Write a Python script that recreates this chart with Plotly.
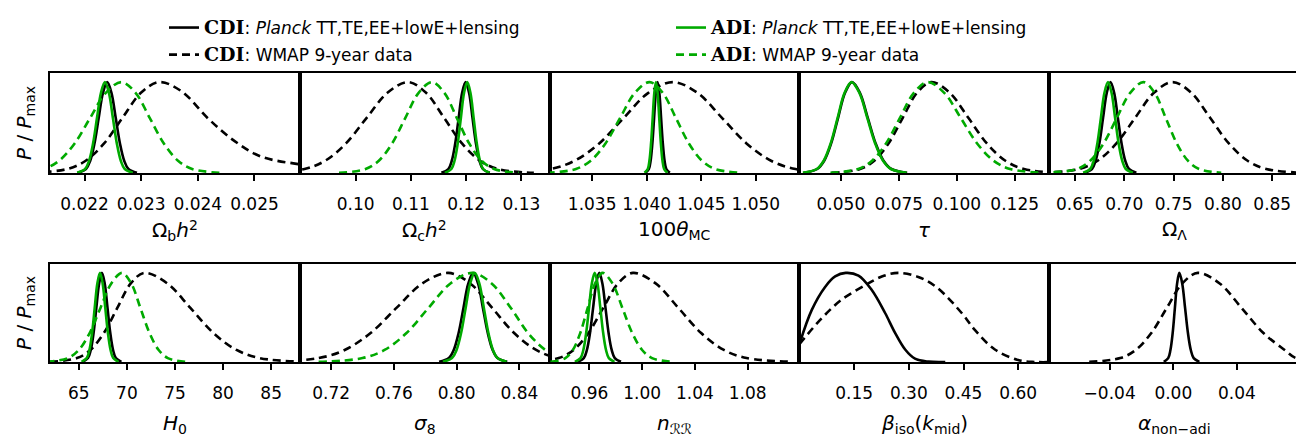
import plotly.graph_objects as go

GREEN = "#00AA00"
BLACK = "#000000"
FONT = "DejaVu Sans"

# shared normalised heights (P/Pmax) at which the x positions below were read
LEVELS = [0.002, 0.044, 0.135, 0.325, 0.607, 0.882, 1.0, 0.882, 0.607, 0.325, 0.135, 0.044, 0.002]

# ---- Omega_b h^2
omb_range = [0.02139, 0.0258]
omb_ticks = [0.022, 0.023, 0.024, 0.025]
omb_ticktext = ["0.022", "0.023", "0.024", "0.025"]
omb_cdi_planck_x = [0.021875, 0.022025, 0.0221, 0.022175, 0.02225, 0.022325, 0.0224, 0.022475, 0.02255, 0.022625, 0.0227, 0.022775, 0.022925]
omb_adi_planck_x = [0.02187, 0.02201, 0.02208, 0.02215, 0.02222, 0.02229, 0.02236, 0.02243, 0.0225, 0.02257, 0.02264, 0.02271, 0.02285]
omb_cdi_wmap_x = [0.021045, 0.021695, 0.02202, 0.022345, 0.02267, 0.022995, 0.02332, 0.02371, 0.02418, 0.02465, 0.02512, 0.0258, 0.0265, 0.0275]
omb_cdi_wmap_y = [0.002, 0.044, 0.135, 0.325, 0.607, 0.882, 1.0, 0.90, 0.60, 0.35, 0.18, 0.095, 0.035, 0.005]
omb_adi_wmap_x = [0.020725, 0.021275, 0.02155, 0.021825, 0.0221, 0.022375, 0.02265, 0.0229, 0.02315, 0.0234, 0.02365, 0.0239, 0.0244]

# ---- Omega_c h^2
omc_range = [0.0899, 0.1351]
omc_ticks = [0.10, 0.11, 0.12, 0.13]
omc_ticktext = ["0.10", "0.11", "0.12", "0.13"]
omc_cdi_planck_x = [0.115525, 0.116775, 0.1174, 0.118025, 0.11865, 0.119275, 0.1199, 0.120525, 0.12115, 0.121775, 0.1224, 0.123025, 0.124275]
omc_adi_planck_x = [0.116175, 0.117325, 0.1179, 0.118475, 0.11905, 0.119625, 0.1202, 0.120775, 0.12135, 0.121925, 0.1225, 0.123075, 0.124225]
omc_cdi_wmap_x = [0.08325, 0.09075, 0.0945, 0.09825, 0.102, 0.10575, 0.1095, 0.11275, 0.116, 0.11925, 0.1225, 0.12575, 0.13225]
omc_adi_wmap_x = [0.097, 0.1018, 0.1042, 0.1066, 0.109, 0.1114, 0.1138, 0.11605, 0.1183, 0.12055, 0.1228, 0.12505, 0.12955]

# ---- 100 theta_MC
th_range = [1.0311, 1.0540]
th_ticks = [1.035, 1.040, 1.045, 1.050]
th_ticktext = ["1.035", "1.040", "1.045", "1.050"]
th_cdi_planck_x = [1.03988, 1.0402, 1.04036, 1.04052, 1.04068, 1.04084, 1.041, 1.04116, 1.04132, 1.04148, 1.04164, 1.0418, 1.04212]
th_adi_planck_x = [1.0398, 1.0401, 1.04025, 1.0404, 1.04055, 1.0407, 1.04085, 1.041, 1.04115, 1.0413, 1.04145, 1.0416, 1.0419]
th_cdi_wmap_x = [1.02665, 1.03115, 1.0334, 1.03565, 1.0379, 1.04015, 1.0424, 1.04465, 1.0469, 1.04915, 1.0514, 1.05365, 1.05815]
th_adi_wmap_x = [1.03082, 1.03352, 1.03487, 1.03622, 1.03757, 1.03892, 1.04027, 1.04147, 1.04267, 1.04387, 1.04507, 1.04627, 1.04867]

# ---- tau
tau_range = [0.0321, 0.1399]
tau_ticks = [0.050, 0.075, 0.100, 0.125]
tau_ticktext = ["0.050", "0.075", "0.100", "0.125"]
tau_cdi_planck_x = [0.0338, 0.0398, 0.0428, 0.0458, 0.0488, 0.0518, 0.0548, 0.0582, 0.0616, 0.065, 0.0684, 0.0718, 0.0786]
tau_adi_planck_x = [0.0336, 0.0396, 0.0426, 0.0456, 0.0486, 0.0516, 0.0546, 0.058, 0.0614, 0.0648, 0.0682, 0.0716, 0.0784]
tau_cdi_wmap_x = [0.04595, 0.05825, 0.0644, 0.07055, 0.0767, 0.08285, 0.089, 0.097, 0.105, 0.113, 0.121, 0.129, 0.145]
tau_adi_wmap_x = [0.0455, 0.0575, 0.0635, 0.0695, 0.0755, 0.0815, 0.0875, 0.0946, 0.1017, 0.1088, 0.1159, 0.123, 0.1372]

# ---- Omega_Lambda
ol_range = [0.6239, 0.8771]
ol_ticks = [0.65, 0.70, 0.75, 0.80, 0.85]
ol_ticktext = ["0.65", "0.70", "0.75", "0.80", "0.85"]
ol_cdi_planck_x = [0.65975, 0.66725, 0.671, 0.67475, 0.6785, 0.68225, 0.686, 0.68975, 0.6935, 0.69725, 0.701, 0.70475, 0.71225]
ol_adi_planck_x = [0.6583, 0.6655, 0.6691, 0.6727, 0.6763, 0.6799, 0.6835, 0.6871, 0.6907, 0.6943, 0.6979, 0.7015, 0.7087]
ol_cdi_wmap_x = [0.616, 0.654, 0.673, 0.692, 0.711, 0.73, 0.749, 0.768, 0.787, 0.806, 0.825, 0.844, 0.882]
ol_adi_wmap_x = [0.615, 0.652, 0.6655, 0.679, 0.6925, 0.706, 0.7195, 0.73075, 0.742, 0.75325, 0.7645, 0.77575, 0.79825]

# ---- H0
h0_range = [62.0, 87.98]
h0_ticks = [65, 70, 75, 80, 85]
h0_ticktext = ["65", "70", "75", "80", "85"]
h0_cdi_planck_x = [65.37, 65.95, 66.24, 66.53, 66.82, 67.11, 67.4, 67.69, 67.98, 68.27, 68.56, 68.85, 69.43]
h0_adi_planck_x = [65.275, 65.825, 66.1, 66.375, 66.65, 66.925, 67.2, 67.475, 67.75, 68.025, 68.3, 68.575, 69.125]
h0_cdi_wmap_x = [62.0, 64.8, 66.2, 67.6, 69.0, 70.4, 71.8, 74.2, 76.6, 79.0, 81.4, 83.8, 88.6]
h0_adi_wmap_x = [61.625, 63.875, 65.0, 66.125, 67.25, 68.375, 69.5, 70.45, 71.4, 72.35, 73.3, 74.25, 76.15]

# ---- sigma_8
s8_range = [0.700, 0.8592]
s8_ticks = [0.72, 0.76, 0.80, 0.84]
s8_ticktext = ["0.72", "0.76", "0.80", "0.84"]
s8_cdi_planck_x = [0.7888, 0.795, 0.7981, 0.8012, 0.8043, 0.8074, 0.8105, 0.8136, 0.8167, 0.8198, 0.8229, 0.826, 0.8322]
s8_adi_planck_x = [0.7912, 0.797, 0.7999, 0.8028, 0.8057, 0.8086, 0.8115, 0.8144, 0.8173, 0.8202, 0.8231, 0.826, 0.8318]
s8_cdi_wmap_x = [0.6791, 0.7121, 0.7286, 0.7451, 0.7616, 0.7781, 0.7946, 0.8086, 0.8226, 0.8366, 0.8506, 0.8646, 0.8926]
s8_adi_wmap_x = [0.712, 0.74, 0.754, 0.768, 0.782, 0.796, 0.81, 0.82225, 0.8345, 0.8455, 0.8565, 0.867, 0.888]

# ---- n_RR
ns_range = [0.9298, 1.1193]
ns_ticks = [0.96, 1.00, 1.04, 1.08]
ns_ticktext = ["0.96", "1.00", "1.04", "1.08"]
ns_cdi_planck_x = [0.95105, 0.95575, 0.9581, 0.96045, 0.9628, 0.96515, 0.9675, 0.96985, 0.9722, 0.97455, 0.9769, 0.97925, 0.98395]
ns_adi_planck_x = [0.94895, 0.95325, 0.9554, 0.95755, 0.9597, 0.96185, 0.964, 0.96615, 0.9683, 0.97045, 0.9726, 0.97475, 0.97905]
ns_cdi_wmap_x = [0.91425, 0.93675, 0.948, 0.95925, 0.9705, 0.98175, 0.993, 1.01025, 1.0275, 1.04475, 1.062, 1.07925, 1.11375]
ns_adi_wmap_x = [0.93045, 0.94175, 0.9474, 0.95305, 0.9587, 0.96435, 0.97, 0.9775, 0.985, 0.9925, 1.0, 1.0075, 1.0225]

# ---- beta_iso(k_mid)  (CDI only)
beta_range = [0.0, 0.685]
beta_ticks = [0.15, 0.30, 0.45, 0.60]
beta_ticktext = ["0.15", "0.30", "0.45", "0.60"]
beta_cdi_planck_x = [0.0, 0.034, 0.07, 0.098, 0.127, 0.162, 0.198, 0.235, 0.262, 0.29, 0.317, 0.354, 0.40]
beta_cdi_planck_y = [0.2, 0.585, 0.84, 0.96, 1.0, 0.97, 0.81, 0.55, 0.33, 0.14, 0.037, 0.004, 0.0]
beta_cdi_wmap_x = [0.0, 0.061, 0.116, 0.18, 0.226, 0.271, 0.326, 0.376, 0.445, 0.481, 0.536, 0.60, 0.646, 0.70]
beta_cdi_wmap_y = [0.2, 0.49, 0.70, 0.86, 0.96, 1.0, 0.955, 0.84, 0.55, 0.36, 0.14, 0.022, 0.0, 0.0]

# ---- alpha_non-adi  (CDI only)
al_range = [-0.078, 0.079]
al_ticks = [-0.04, 0.0, 0.04]
al_ticktext = ["\u22120.04", "0.00", "0.04"]
al_cdi_planck_x = [-0.006, -0.0032, -0.0018, -0.0004, 0.001, 0.0024, 0.0038, 0.0056, 0.0074, 0.0092, 0.011, 0.0128, 0.0164]
al_cdi_wmap_x = [-0.05285, -0.03335, -0.0236, -0.01385, -0.0041, 0.00565, 0.0154, 0.02915, 0.0429, 0.05665, 0.0700, 0.0770, 0.092]


def it(s, size=20):
    return f'<span style="font-style:italic;font-size:{size}px">{s}</span>'


def rm(s, size=20):
    return f'<span style="font-size:{size}px">{s}</span>'


def sub(s, size=14):
    return f'<span style="font-size:{size}px;baseline-shift:-4px">{s}</span>'


def sup(s, size=14):
    return f'<span style="font-size:{size}px;baseline-shift:7px">{s}</span>'


titles = [
    rm("\u03a9") + sub("b") + it("h") + sup("2"),
    rm("\u03a9") + sub("c") + it("h") + sup("2"),
    rm("100") + it("\u03b8") + sub("MC"),
    it("\u03c4"),
    rm("\u03a9") + sub("\u039b"),
    it("H") + sub("0"),
    it("\u03c3") + sub("8"),
    it("n") + sub("\u211b\u211b"),
    it("\u03b2") + sub("iso") + rm("(") + it("k") + sub("mid") + rm(")"),
    it("\u03b1") + sub("non\u2212adi"),
]
ylabel = it("P") + rm(" / ") + it("P") + sub("max")

BOLD = "<span style=\"font-family:'DejaVu Serif';font-weight:bold;font-size:19px\">{}</span>"
NAME_CDI_P = BOLD.format("CDI") + ": <i>Planck</i> TT,TE,EE+lowE+lensing"
NAME_CDI_W = BOLD.format("CDI") + ": WMAP 9-year data"
NAME_ADI_P = BOLD.format("ADI") + ": <i>Planck</i> TT,TE,EE+lowE+lensing"
NAME_ADI_W = BOLD.format("ADI") + ": WMAP 9-year data"

DASH = "8px,5px"


# curve spec: (x, y, colour, dash, name, legend) in drawing order
def std(cdi_p, adi_p, cdi_w, adi_w, cdi_w_y=None):
    return [
        (cdi_p, LEVELS, BLACK, "solid", NAME_CDI_P, "legend"),
        (cdi_w, cdi_w_y or LEVELS, BLACK, DASH, NAME_CDI_W, "legend"),
        (adi_p, LEVELS, GREEN, "solid", NAME_ADI_P, "legend2"),
        (adi_w, LEVELS, GREEN, DASH, NAME_ADI_W, "legend2"),
    ]


panels = [
    (omb_range, omb_ticks, omb_ticktext, std(omb_cdi_planck_x, omb_adi_planck_x, omb_cdi_wmap_x, omb_adi_wmap_x, omb_cdi_wmap_y)),
    (omc_range, omc_ticks, omc_ticktext, std(omc_cdi_planck_x, omc_adi_planck_x, omc_cdi_wmap_x, omc_adi_wmap_x)),
    (th_range, th_ticks, th_ticktext, std(th_cdi_planck_x, th_adi_planck_x, th_cdi_wmap_x, th_adi_wmap_x)),
    (tau_range, tau_ticks, tau_ticktext, std(tau_cdi_planck_x, tau_adi_planck_x, tau_cdi_wmap_x, tau_adi_wmap_x)),
    (ol_range, ol_ticks, ol_ticktext, std(ol_cdi_planck_x, ol_adi_planck_x, ol_cdi_wmap_x, ol_adi_wmap_x)),
    (h0_range, h0_ticks, h0_ticktext, std(h0_cdi_planck_x, h0_adi_planck_x, h0_cdi_wmap_x, h0_adi_wmap_x)),
    (s8_range, s8_ticks, s8_ticktext, std(s8_cdi_planck_x, s8_adi_planck_x, s8_cdi_wmap_x, s8_adi_wmap_x)),
    (ns_range, ns_ticks, ns_ticktext, std(ns_cdi_planck_x, ns_adi_planck_x, ns_cdi_wmap_x, ns_adi_wmap_x)),
    (beta_range, beta_ticks, beta_ticktext, [
        (beta_cdi_planck_x, beta_cdi_planck_y, BLACK, "solid", NAME_CDI_P, "legend"),
        (beta_cdi_wmap_x, beta_cdi_wmap_y, BLACK, DASH, NAME_CDI_W, "legend"),
    ]),
    (al_range, al_ticks, al_ticktext, [
        (al_cdi_planck_x, LEVELS, BLACK, "solid", NAME_CDI_P, "legend"),
        (al_cdi_wmap_x, LEVELS, BLACK, DASH, NAME_CDI_W, "legend"),
    ]),
]

# geometry (paper coords of the plot area)
L, R, T, B = 42, 13, 65, 81
W, H = 1304, 435
PW, PH = W - L - R, H - T - B


def py(ypix):
    return (H - B - ypix) / PH


row_dom = [[py(165), 1.0], [0.0, py(256)]]

fig = go.Figure()
layout = {}
annotations = []
legend_rank = {NAME_CDI_P: 1, NAME_CDI_W: 2, NAME_ADI_P: 1, NAME_ADI_W: 2}
shown = set()
for i, (xr, tv, tt, curves) in enumerate(panels):
    r, c = divmod(i, 5)
    ax = "" if i == 0 else str(i + 1)
    for (xs, ys, col, dash, name, leg) in curves:
        show = name not in shown
        shown.add(name)
        fig.add_trace(go.Scatter(
            x=xs, y=ys, mode="lines", name=name,
            line=dict(color=col, width=2.6, dash=dash, shape="spline", smoothing=1.0),
            xaxis="x" + ax, yaxis="y" + ax, showlegend=show, legend=leg,
            legendgroup=name, legendrank=legend_rank[name], hoverinfo="skip"))
    layout["xaxis" + ax] = dict(
        domain=[c / 5, (c + 1) / 5], anchor="y" + ax, range=xr,
        tickvals=tv, ticktext=tt, ticks="outside", ticklen=6, tickwidth=1.6,
        tickcolor="black", showline=True, mirror=True, linecolor="black", linewidth=1.8,
        showgrid=False, zeroline=False, tickfont=dict(family=FONT, size=17, color="black"),
        ticklabelstandoff=9)
    layout["yaxis" + ax] = dict(
        domain=row_dom[r], anchor="x" + ax, range=[0, 1.1], showticklabels=False,
        ticks="", showline=True, mirror=True, linecolor="black", linewidth=1.8,
        showgrid=False, zeroline=False)
    annotations.append(dict(
        text=titles[i], x=(c + 0.5) / 5, y=py(222 if r == 0 else 416),
        xref="paper", yref="paper", xanchor="center", yanchor="middle",
        showarrow=False, font=dict(family=FONT, size=20, color="black")))

for r in range(2):
    annotations.append(dict(
        text=ylabel, x=(17 - L) / PW,
        y=py(115 if r == 0 else 305), xref="paper", yref="paper",
        xanchor="center", yanchor="middle", textangle=-90, showarrow=False,
        font=dict(family=FONT, size=20, color="black")))

leg_common = dict(
    xanchor="left", yanchor="top", y=py(2), orientation="v",
    font=dict(family=FONT, size=17, color="black"), bgcolor="rgba(0,0,0,0)",
    itemwidth=30, tracegroupgap=2)
layout["legend"] = dict(x=(156 - L) / PW, **leg_common)
layout["legend2"] = dict(x=(663 - L) / PW, **leg_common)

fig.update_layout(
    width=W, height=H, margin=dict(l=L, r=R, t=T, b=B, autoexpand=False),
    paper_bgcolor="white", plot_bgcolor="white", showlegend=True,
    annotations=annotations, font=dict(family=FONT, color="black"), **layout)

fig.write_html("out.html")
